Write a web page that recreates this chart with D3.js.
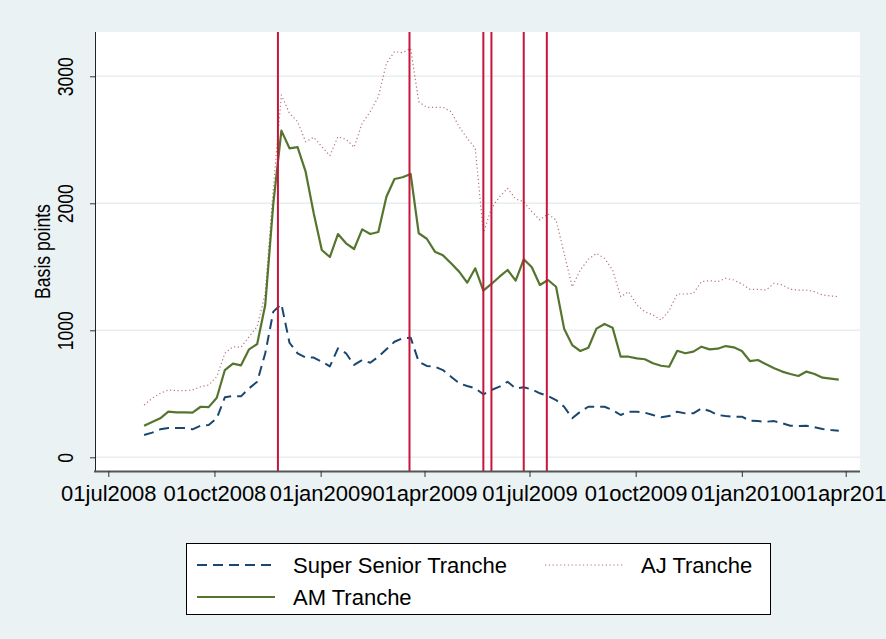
<html lang='en'>

<head>
    <meta content='text/html; charset=utf-8' http-equiv='Content-Type'>
    <title>CMBS tranche spreads</title>
    <script src="https://d3js.org/d3.v7.min.js"></script>
    <style>
        body { margin: 0; background: #eaf2f3; }
        text { font-family: "Liberation Sans", Arial, sans-serif; fill: #000; }
        .grid line { stroke: #e6eef0; stroke-width: 1.6px; }
        .series { fill: none; stroke-linejoin: round; }
    </style>
</head>

<body>
<script>
// weekly observations (Fridays)
var dates = [
  "2008-08-01","2008-08-08","2008-08-15","2008-08-22","2008-08-29","2008-09-05","2008-09-12","2008-09-19","2008-09-26",
  "2008-10-03","2008-10-10","2008-10-17","2008-10-24","2008-10-31","2008-11-07","2008-11-14","2008-11-21","2008-11-28",
  "2008-12-05","2008-12-12","2008-12-19","2008-12-26",
  "2009-01-02","2009-01-09","2009-01-16","2009-01-23","2009-01-30","2009-02-06","2009-02-13","2009-02-20","2009-02-27",
  "2009-03-06","2009-03-13","2009-03-20","2009-03-27","2009-04-03","2009-04-10","2009-04-17","2009-04-24","2009-05-01",
  "2009-05-08","2009-05-15","2009-05-22","2009-05-29","2009-06-05","2009-06-12","2009-06-19","2009-06-26","2009-07-03",
  "2009-07-10","2009-07-17","2009-07-24","2009-07-31","2009-08-07","2009-08-14","2009-08-21","2009-08-28","2009-09-04",
  "2009-09-11","2009-09-18","2009-09-25","2009-10-02","2009-10-09","2009-10-16","2009-10-23","2009-10-30","2009-11-06",
  "2009-11-13","2009-11-20","2009-11-27","2009-12-04","2009-12-11","2009-12-18","2009-12-25",
  "2010-01-01","2010-01-08","2010-01-15","2010-01-22","2010-01-29","2010-02-05","2010-02-12","2010-02-19","2010-02-26",
  "2010-03-05","2010-03-12","2010-03-19","2010-03-26"
];

var superSenior = [
  176,194,220,231,230,230,220,249,254,307,472,483,480,543,595,819,1147,1207,
  902,819,785,785,753,716,858,819,727,766,745,792,850,910,937,942,753,719,713,
  687,635,583,561,543,496,530,556,595,543,551,535,504,483,451,398,307,359,398,
  398,398,372,333,359,359,351,333,315,325,359,346,346,386,365,333,325,320,320,
  288,285,280,285,268,249,246,249,236,223,215,210
];

var ajTranche = [
  412,464,504,530,525,525,530,556,569,635,819,871,866,950,1029,1291,2120,2853,
  2709,2643,2485,2520,2446,2375,2524,2504,2441,2630,2721,2839,3102,3194,3186,3220,
  2800,2756,2756,2756,2721,2603,2512,2433,1764,1961,2052,2118,2033,2013,1934,1869,
  1916,1869,1606,1343,1475,1559,1606,1567,1475,1265,1304,1199,1147,1121,1081,1155,
  1286,1286,1291,1383,1391,1383,1409,1396,1365,1323,1323,1317,1370,1357,1323,1317,
  1317,1304,1278,1270,1265
];

var amTranche = [
  249,278,307,359,354,354,352,398,395,469,687,737,724,850,892,1199,2000,2572,
  2433,2443,2249,1921,1632,1577,1758,1685,1640,1795,1758,1774,2052,2191,2205,2231,
  1764,1721,1619,1590,1528,1462,1375,1488,1312,1365,1422,1475,1391,1559,1496,1357,
  1396,1343,1013,884,837,863,1013,1050,1021,792,792,779,772,740,721,713,839,819,
  832,871,850,855,876,866,837,758,766,732,701,675,656,640,675,656,627,619,611
];

var eventDates = ["2008-11-25","2009-03-19","2009-05-22","2009-05-29","2009-06-26","2009-07-16"];

var xTickDates = ["2008-07-01","2008-10-01","2009-01-01","2009-04-01","2009-07-01","2009-10-01","2010-01-01","2010-04-01"];
var xTickLabels = ["01jul2008","01oct2008","01jan2009","01apr2009","01jul2009","01oct2009","01jan2010","01apr2010"];
var yTicks = [0, 1000, 2000, 3000];

var seriesNames = ["Super Senior Tranche", "AJ Tranche", "AM Tranche"];

var width = 886, height = 639;
var plot = {left: 95, right: 860, top: 32, bottom: 471};
var fontSize = "22px";
var vertText = "rotate(-90) scale(0.8,1)";   // vertical texts are condensed along their length

var parse = d3.timeParse("%Y-%m-%d");

var x = d3.scaleTime()
    .domain([parse(xTickDates[0]), parse(xTickDates[xTickDates.length - 1])])
    .range([108.3, 845.7]);

var y = d3.scaleLinear()
    .domain([0, 3000])
    .range([457.3, 76.3]);

var svg = d3.select("body").append("svg")
    .attr("width", width)
    .attr("height", height);

svg.append("rect")
    .attr("width", width).attr("height", height)
    .attr("fill", "#eaf2f3");

svg.append("rect")
    .attr("x", plot.left).attr("y", plot.top)
    .attr("width", plot.right - plot.left)
    .attr("height", plot.bottom - plot.top)
    .attr("fill", "#fff");

// horizontal grid
svg.append("g")
    .attr("class", "grid")
    .selectAll("line")
    .data(yTicks)
    .enter().append("line")
    .attr("x1", plot.left).attr("x2", plot.right)
    .attr("y1", function(d) { return y(d); })
    .attr("y2", function(d) { return y(d); });

var rows = dates.map(function(d, i) {
    return {date: parse(d), ss: superSenior[i], aj: ajTranche[i], am: amTranche[i]};
});

function lineFor(key) {
    return d3.line()
        .x(function(d) { return x(d.date); })
        .y(function(d) { return y(d[key]); });
}

var styles = [
    {key: "ss", color: "#1a476f", width: 2, dash: "10,6"},
    {key: "aj", color: "#a0434b", width: 1.2, dash: "1.2,2.6"},
    {key: "am", color: "#55752f", width: 2.2, dash: null}
];

styles.forEach(function(s) {
    svg.append("path")
        .datum(rows)
        .attr("class", "series")
        .attr("stroke", s.color)
        .attr("stroke-width", s.width)
        .attr("stroke-dasharray", s.dash)
        .attr("opacity", s.key == "aj" ? 0.75 : 1)
        .attr("d", lineFor(s.key));
});

// event lines
svg.append("g")
    .selectAll("line")
    .data(eventDates)
    .enter().append("line")
    .attr("x1", function(d) { return x(parse(d)); })
    .attr("x2", function(d) { return x(parse(d)); })
    .attr("y1", plot.top)
    .attr("y2", plot.bottom)
    .attr("stroke", "#c8143c")
    .attr("stroke-width", 2);

// y axis
var yAxis = svg.append("g")
    .attr("transform", "translate(" + plot.left + ",0)")
    .call(d3.axisLeft(y).tickValues(yTicks).tickFormat(d3.format("d")).tickSize(5).tickSizeOuter(0));
yAxis.select(".domain").attr("d", "M0.5," + plot.top + "V" + plot.bottom).attr("stroke", "#222");
yAxis.selectAll(".tick line").attr("stroke", "#333");
yAxis.selectAll(".tick text")
    .attr("x", null).attr("dy", null)
    .attr("text-anchor", "middle")
    .style("font-size", fontSize)
    .attr("transform", "translate(-22,0) " + vertText);

// x axis
var xAxis = svg.append("g")
    .attr("transform", "translate(0," + plot.bottom + ")")
    .call(d3.axisBottom(x)
        .tickValues(xTickDates.map(parse))
        .tickFormat(function(d, i) { return xTickLabels[i]; })
        .tickSize(6).tickSizeOuter(0));
xAxis.select(".domain").attr("d", "M" + (plot.left - 1) + ",0.5H" + plot.right).attr("stroke", "#555").attr("stroke-width", 2);
xAxis.selectAll(".tick line").attr("stroke", "#333");
xAxis.selectAll(".tick text")
    .attr("y", 30).attr("dy", null)
    .style("font-size", fontSize);

// axis title
svg.append("text")
    .attr("transform", "translate(50," + ((plot.top + plot.bottom) / 2) + ") " + vertText)
    .attr("text-anchor", "middle")
    .style("font-size", fontSize)
    .text("Basis points");

// legend
var legend = svg.append("g");
legend.append("rect")
    .attr("x", 186.5).attr("y", 543.5)
    .attr("width", 584).attr("height", 71)
    .attr("fill", "#fff").attr("stroke", "#000");

var legendPos = [
    {x: 197, y: 565},
    {x: 545, y: 565},
    {x: 197, y: 597}
];

styles.forEach(function(s, i) {
    var p = legendPos[i];
    legend.append("line")
        .attr("x1", p.x).attr("x2", p.x + 78)
        .attr("y1", p.y).attr("y2", p.y)
        .attr("stroke", s.color)
        .attr("stroke-width", s.width)
        .attr("stroke-dasharray", s.dash)
        .attr("opacity", s.key == "aj" ? 0.75 : 1);
    legend.append("text")
        .attr("x", p.x + 96)
        .attr("y", p.y + 8)
        .style("font-size", fontSize)
        .text(seriesNames[i]);
});
</script>
</body>

</html>
